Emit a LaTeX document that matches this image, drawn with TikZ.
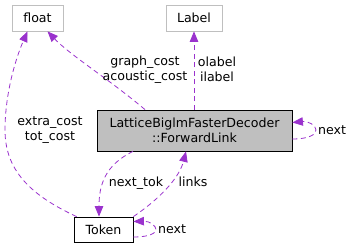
\documentclass[tikz,border=0pt]{standalone}
\usepackage{fontspec}
\setmainfont{DejaVu Sans}
\usetikzlibrary{arrows.meta}
\definecolor{edgecol}{HTML}{9A32CD}
\definecolor{boxgray}{HTML}{BFBFBF}

\begin{document}
\begin{tikzpicture}[x=1pt,y=-1pt,
  font=\fontsize{12.6}{14.5}\selectfont,
  box/.style={draw, rectangle, inner sep=0pt, line width=0.8pt, align=center},
  extbox/.style={box, draw=boxgray},
  edge/.style={draw=edgecol, line width=0.8pt, dash pattern=on 5pt off 3.5pt,
    -{Triangle[length=10.5pt,width=8.5pt]}},
  lbl/.style={inner sep=0pt, align=center}]
\useasboundingbox (0,0) rectangle (354,248);

% classes
\node[extbox, minimum width=51pt, minimum height=26pt] (float) at (37.5,18) {float};
\node[extbox, minimum width=56pt, minimum height=26pt] (label) at (194,18) {Label};
\node[box, fill=boxgray, minimum width=195pt, minimum height=41pt] (main) at (194.5,130.5)
  {LatticeBiglmFasterDecoder\\::ForwardLink};
\node[box, fill=white, minimum width=59pt, minimum height=25pt] (token) at (103.5,229.5) {Token};

% members
\draw[edge] ([xshift=-49.5pt]main.north) .. controls (110,80) and (70,55) .. ([xshift=10pt]float.south);
\draw[edge] (main.north -| label.south) -- (label.south);
\draw[edge] ([xshift=3pt]token.north west) .. controls (30,195) and (5,170) .. (5,130)
  .. controls (5,95) and (15,60) .. ([xshift=-10pt]float.south);
\draw[edge] ([xshift=-61.5pt]main.south) .. controls (105,165) and (99,185) .. ([xshift=-4.5pt]token.north);
\draw[edge] (token.north east) .. controls (165,195) and (180,175) .. ([xshift=-8.5pt]main.south);
\draw[edge] ([yshift=-8.5pt]main.east) .. controls (308,139) and (316,135) .. (316,130)
  .. controls (316,125) and (308,121) .. ([yshift=8pt]main.east);
\draw[edge] ([yshift=-7.5pt]token.east) .. controls (150,237) and (156,233) .. (156,229.5)
  .. controls (156,226) and (150,221) .. ([yshift=8pt]token.east);

% member names
\node[lbl] (costs) at (145,69.5) {graph\_cost\\acoustic\_cost};
\node[lbl] (labels) at (217,69.5) {olabel\\ilabel};
\node[lbl] (tcosts) at (50,130) {extra\_cost\\tot\_cost};
\node[lbl] (nexttok) at (136,183) {next\_tok};
\node[lbl] (links) at (193,182) {links};
\node[lbl] (mnext) at (332,130) {next};
\node[lbl] (tnext) at (172,229) {next};
\end{tikzpicture}
\end{document}
